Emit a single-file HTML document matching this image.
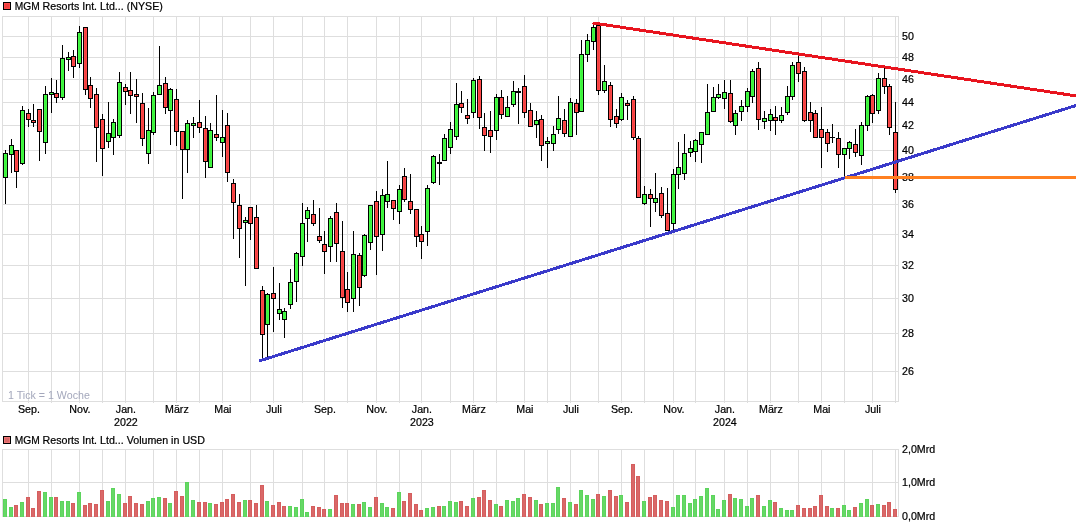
<!DOCTYPE html>
<html lang="de"><head><meta charset="utf-8"><title>MGM Resorts Int. Ltd... (NYSE)</title>
<style>html,body{margin:0;padding:0;background:#fff;}body{width:1076px;height:526px;overflow:hidden;}svg{display:block;}text{font-family:"Liberation Sans", sans-serif;font-size:10.67px;fill:#000;stroke:#000;stroke-width:0.22px;}</style>
</head><body>
<svg width="1076" height="526" viewBox="0 0 1076 526">
<rect x="0" y="0" width="1076" height="526" fill="#fff"/>
<g shape-rendering="crispEdges">
<rect x="28" y="16" width="1" height="387" fill="#dedede"/>
<rect x="28" y="449" width="1" height="68" fill="#dedede"/>
<rect x="51" y="16" width="1" height="387" fill="#dedede"/>
<rect x="51" y="449" width="1" height="68" fill="#dedede"/>
<rect x="79" y="16" width="1" height="387" fill="#dedede"/>
<rect x="79" y="449" width="1" height="68" fill="#dedede"/>
<rect x="102" y="16" width="1" height="387" fill="#dedede"/>
<rect x="102" y="449" width="1" height="68" fill="#dedede"/>
<rect x="125" y="16" width="1" height="387" fill="#dedede"/>
<rect x="125" y="449" width="1" height="68" fill="#dedede"/>
<rect x="153" y="16" width="1" height="387" fill="#dedede"/>
<rect x="153" y="449" width="1" height="68" fill="#dedede"/>
<rect x="176" y="16" width="1" height="387" fill="#dedede"/>
<rect x="176" y="449" width="1" height="68" fill="#dedede"/>
<rect x="199" y="16" width="1" height="387" fill="#dedede"/>
<rect x="199" y="449" width="1" height="68" fill="#dedede"/>
<rect x="222" y="16" width="1" height="387" fill="#dedede"/>
<rect x="222" y="449" width="1" height="68" fill="#dedede"/>
<rect x="250" y="16" width="1" height="387" fill="#dedede"/>
<rect x="250" y="449" width="1" height="68" fill="#dedede"/>
<rect x="273" y="16" width="1" height="387" fill="#dedede"/>
<rect x="273" y="449" width="1" height="68" fill="#dedede"/>
<rect x="302" y="16" width="1" height="387" fill="#dedede"/>
<rect x="302" y="449" width="1" height="68" fill="#dedede"/>
<rect x="324" y="16" width="1" height="387" fill="#dedede"/>
<rect x="324" y="449" width="1" height="68" fill="#dedede"/>
<rect x="347" y="16" width="1" height="387" fill="#dedede"/>
<rect x="347" y="449" width="1" height="68" fill="#dedede"/>
<rect x="376" y="16" width="1" height="387" fill="#dedede"/>
<rect x="376" y="449" width="1" height="68" fill="#dedede"/>
<rect x="399" y="16" width="1" height="387" fill="#dedede"/>
<rect x="399" y="449" width="1" height="68" fill="#dedede"/>
<rect x="421" y="16" width="1" height="387" fill="#dedede"/>
<rect x="421" y="449" width="1" height="68" fill="#dedede"/>
<rect x="450" y="16" width="1" height="387" fill="#dedede"/>
<rect x="450" y="449" width="1" height="68" fill="#dedede"/>
<rect x="473" y="16" width="1" height="387" fill="#dedede"/>
<rect x="473" y="449" width="1" height="68" fill="#dedede"/>
<rect x="496" y="16" width="1" height="387" fill="#dedede"/>
<rect x="496" y="449" width="1" height="68" fill="#dedede"/>
<rect x="524" y="16" width="1" height="387" fill="#dedede"/>
<rect x="524" y="449" width="1" height="68" fill="#dedede"/>
<rect x="547" y="16" width="1" height="387" fill="#dedede"/>
<rect x="547" y="449" width="1" height="68" fill="#dedede"/>
<rect x="570" y="16" width="1" height="387" fill="#dedede"/>
<rect x="570" y="449" width="1" height="68" fill="#dedede"/>
<rect x="598" y="16" width="1" height="387" fill="#dedede"/>
<rect x="598" y="449" width="1" height="68" fill="#dedede"/>
<rect x="621" y="16" width="1" height="387" fill="#dedede"/>
<rect x="621" y="449" width="1" height="68" fill="#dedede"/>
<rect x="644" y="16" width="1" height="387" fill="#dedede"/>
<rect x="644" y="449" width="1" height="68" fill="#dedede"/>
<rect x="673" y="16" width="1" height="387" fill="#dedede"/>
<rect x="673" y="449" width="1" height="68" fill="#dedede"/>
<rect x="695" y="16" width="1" height="387" fill="#dedede"/>
<rect x="695" y="449" width="1" height="68" fill="#dedede"/>
<rect x="724" y="16" width="1" height="387" fill="#dedede"/>
<rect x="724" y="449" width="1" height="68" fill="#dedede"/>
<rect x="747" y="16" width="1" height="387" fill="#dedede"/>
<rect x="747" y="449" width="1" height="68" fill="#dedede"/>
<rect x="770" y="16" width="1" height="387" fill="#dedede"/>
<rect x="770" y="449" width="1" height="68" fill="#dedede"/>
<rect x="798" y="16" width="1" height="387" fill="#dedede"/>
<rect x="798" y="449" width="1" height="68" fill="#dedede"/>
<rect x="821" y="16" width="1" height="387" fill="#dedede"/>
<rect x="821" y="449" width="1" height="68" fill="#dedede"/>
<rect x="844" y="16" width="1" height="387" fill="#dedede"/>
<rect x="844" y="449" width="1" height="68" fill="#dedede"/>
<rect x="872" y="16" width="1" height="387" fill="#dedede"/>
<rect x="872" y="449" width="1" height="68" fill="#dedede"/>
<rect x="895" y="16" width="1" height="387" fill="#dedede"/>
<rect x="895" y="449" width="1" height="68" fill="#dedede"/>
<rect x="2" y="36" width="897" height="1" fill="#dedede"/>
<rect x="2" y="57" width="897" height="1" fill="#dedede"/>
<rect x="2" y="79" width="897" height="1" fill="#dedede"/>
<rect x="2" y="102" width="897" height="1" fill="#dedede"/>
<rect x="2" y="125" width="897" height="1" fill="#dedede"/>
<rect x="2" y="150" width="897" height="1" fill="#dedede"/>
<rect x="2" y="177" width="897" height="1" fill="#dedede"/>
<rect x="2" y="204" width="897" height="1" fill="#dedede"/>
<rect x="2" y="234" width="897" height="1" fill="#dedede"/>
<rect x="2" y="265" width="897" height="1" fill="#dedede"/>
<rect x="2" y="298" width="897" height="1" fill="#dedede"/>
<rect x="2" y="333" width="897" height="1" fill="#dedede"/>
<rect x="2" y="371" width="897" height="1" fill="#dedede"/>
<rect x="2" y="482" width="897" height="1" fill="#dedede"/>
<rect x="2" y="16" width="897" height="1" fill="#dedede"/>
<rect x="2" y="401" width="897" height="1" fill="#dedede"/>
<rect x="2" y="16" width="1" height="386" fill="#dedede"/>
<rect x="898" y="16" width="1" height="386" fill="#dedede"/>
<rect x="2" y="449" width="897" height="1" fill="#dedede"/>
<rect x="2" y="516" width="897" height="1" fill="#dedede"/>
<rect x="2" y="449" width="1" height="68" fill="#dedede"/>
<rect x="898" y="449" width="1" height="68" fill="#dedede"/>
<rect x="3" y="499" width="4" height="18" fill="#5cd45c"/>
<rect x="4" y="500" width="2" height="17" fill="#66d866"/>
<rect x="9" y="507" width="4" height="10" fill="#5cd45c"/>
<rect x="10" y="508" width="2" height="9" fill="#66d866"/>
<rect x="14" y="505" width="4" height="12" fill="#d55e5e"/>
<rect x="15" y="506" width="2" height="11" fill="#d96868"/>
<rect x="20" y="502" width="4" height="15" fill="#5cd45c"/>
<rect x="21" y="503" width="2" height="14" fill="#66d866"/>
<rect x="26" y="497" width="4" height="20" fill="#d55e5e"/>
<rect x="27" y="498" width="2" height="19" fill="#d96868"/>
<rect x="31" y="508" width="4" height="9" fill="#d55e5e"/>
<rect x="32" y="509" width="2" height="8" fill="#d96868"/>
<rect x="37" y="491" width="4" height="26" fill="#d55e5e"/>
<rect x="38" y="492" width="2" height="25" fill="#d96868"/>
<rect x="43" y="492" width="4" height="25" fill="#5cd45c"/>
<rect x="44" y="493" width="2" height="24" fill="#66d866"/>
<rect x="49" y="497" width="4" height="20" fill="#5cd45c"/>
<rect x="50" y="498" width="2" height="19" fill="#66d866"/>
<rect x="54" y="497" width="4" height="20" fill="#d55e5e"/>
<rect x="55" y="498" width="2" height="19" fill="#d96868"/>
<rect x="60" y="501" width="4" height="16" fill="#5cd45c"/>
<rect x="61" y="502" width="2" height="15" fill="#66d866"/>
<rect x="66" y="501" width="4" height="16" fill="#5cd45c"/>
<rect x="67" y="502" width="2" height="15" fill="#66d866"/>
<rect x="71" y="503" width="4" height="14" fill="#d55e5e"/>
<rect x="72" y="504" width="2" height="13" fill="#d96868"/>
<rect x="77" y="492" width="4" height="25" fill="#5cd45c"/>
<rect x="78" y="493" width="2" height="24" fill="#66d866"/>
<rect x="83" y="505" width="4" height="12" fill="#d55e5e"/>
<rect x="84" y="506" width="2" height="11" fill="#d96868"/>
<rect x="88" y="503" width="4" height="14" fill="#d55e5e"/>
<rect x="89" y="504" width="2" height="13" fill="#d96868"/>
<rect x="94" y="504" width="4" height="13" fill="#d55e5e"/>
<rect x="95" y="505" width="2" height="12" fill="#d96868"/>
<rect x="100" y="490" width="4" height="27" fill="#d55e5e"/>
<rect x="101" y="491" width="2" height="26" fill="#d96868"/>
<rect x="106" y="501" width="4" height="16" fill="#5cd45c"/>
<rect x="107" y="502" width="2" height="15" fill="#66d866"/>
<rect x="111" y="488" width="4" height="29" fill="#5cd45c"/>
<rect x="112" y="489" width="2" height="28" fill="#66d866"/>
<rect x="117" y="494" width="4" height="23" fill="#5cd45c"/>
<rect x="118" y="495" width="2" height="22" fill="#66d866"/>
<rect x="123" y="503" width="4" height="14" fill="#d55e5e"/>
<rect x="124" y="504" width="2" height="13" fill="#d96868"/>
<rect x="128" y="496" width="4" height="21" fill="#d55e5e"/>
<rect x="129" y="497" width="2" height="20" fill="#d96868"/>
<rect x="134" y="503" width="4" height="14" fill="#d55e5e"/>
<rect x="135" y="504" width="2" height="13" fill="#d96868"/>
<rect x="140" y="504" width="4" height="13" fill="#d55e5e"/>
<rect x="141" y="505" width="2" height="12" fill="#d96868"/>
<rect x="146" y="501" width="4" height="16" fill="#5cd45c"/>
<rect x="147" y="502" width="2" height="15" fill="#66d866"/>
<rect x="151" y="498" width="4" height="19" fill="#5cd45c"/>
<rect x="152" y="499" width="2" height="18" fill="#66d866"/>
<rect x="157" y="497" width="4" height="20" fill="#5cd45c"/>
<rect x="158" y="498" width="2" height="19" fill="#66d866"/>
<rect x="163" y="498" width="4" height="19" fill="#d55e5e"/>
<rect x="164" y="499" width="2" height="18" fill="#d96868"/>
<rect x="168" y="503" width="4" height="14" fill="#5cd45c"/>
<rect x="169" y="504" width="2" height="13" fill="#66d866"/>
<rect x="174" y="491" width="4" height="26" fill="#d55e5e"/>
<rect x="175" y="492" width="2" height="25" fill="#d96868"/>
<rect x="180" y="496" width="4" height="21" fill="#d55e5e"/>
<rect x="181" y="497" width="2" height="20" fill="#d96868"/>
<rect x="185" y="482" width="4" height="35" fill="#5cd45c"/>
<rect x="186" y="483" width="2" height="34" fill="#66d866"/>
<rect x="191" y="500" width="4" height="17" fill="#5cd45c"/>
<rect x="192" y="501" width="2" height="16" fill="#66d866"/>
<rect x="197" y="502" width="4" height="15" fill="#d55e5e"/>
<rect x="198" y="503" width="2" height="14" fill="#d96868"/>
<rect x="203" y="502" width="4" height="15" fill="#d55e5e"/>
<rect x="204" y="503" width="2" height="14" fill="#d96868"/>
<rect x="208" y="503" width="4" height="14" fill="#5cd45c"/>
<rect x="209" y="504" width="2" height="13" fill="#66d866"/>
<rect x="214" y="504" width="4" height="13" fill="#d55e5e"/>
<rect x="215" y="505" width="2" height="12" fill="#d96868"/>
<rect x="220" y="502" width="4" height="15" fill="#d55e5e"/>
<rect x="221" y="503" width="2" height="14" fill="#d96868"/>
<rect x="225" y="499" width="4" height="18" fill="#d55e5e"/>
<rect x="226" y="500" width="2" height="17" fill="#d96868"/>
<rect x="231" y="494" width="4" height="23" fill="#d55e5e"/>
<rect x="232" y="495" width="2" height="22" fill="#d96868"/>
<rect x="237" y="502" width="4" height="15" fill="#d55e5e"/>
<rect x="238" y="503" width="2" height="14" fill="#d96868"/>
<rect x="243" y="500" width="4" height="17" fill="#5cd45c"/>
<rect x="244" y="501" width="2" height="16" fill="#66d866"/>
<rect x="248" y="500" width="4" height="17" fill="#d55e5e"/>
<rect x="249" y="501" width="2" height="16" fill="#d96868"/>
<rect x="254" y="503" width="4" height="14" fill="#d55e5e"/>
<rect x="255" y="504" width="2" height="13" fill="#d96868"/>
<rect x="260" y="485" width="4" height="32" fill="#d55e5e"/>
<rect x="261" y="486" width="2" height="31" fill="#d96868"/>
<rect x="265" y="501" width="4" height="16" fill="#5cd45c"/>
<rect x="266" y="502" width="2" height="15" fill="#66d866"/>
<rect x="271" y="505" width="4" height="12" fill="#d55e5e"/>
<rect x="272" y="506" width="2" height="11" fill="#d96868"/>
<rect x="277" y="502" width="4" height="15" fill="#d55e5e"/>
<rect x="278" y="503" width="2" height="14" fill="#d96868"/>
<rect x="282" y="506" width="4" height="11" fill="#d55e5e"/>
<rect x="283" y="507" width="2" height="10" fill="#d96868"/>
<rect x="288" y="506" width="4" height="11" fill="#5cd45c"/>
<rect x="289" y="507" width="2" height="10" fill="#66d866"/>
<rect x="294" y="507" width="4" height="10" fill="#5cd45c"/>
<rect x="295" y="508" width="2" height="9" fill="#66d866"/>
<rect x="300" y="499" width="4" height="18" fill="#5cd45c"/>
<rect x="301" y="500" width="2" height="17" fill="#66d866"/>
<rect x="305" y="512" width="4" height="5" fill="#5cd45c"/>
<rect x="306" y="513" width="2" height="4" fill="#66d866"/>
<rect x="311" y="506" width="4" height="11" fill="#d55e5e"/>
<rect x="312" y="507" width="2" height="10" fill="#d96868"/>
<rect x="317" y="507" width="4" height="10" fill="#d55e5e"/>
<rect x="318" y="508" width="2" height="9" fill="#d96868"/>
<rect x="322" y="509" width="4" height="8" fill="#d55e5e"/>
<rect x="323" y="510" width="2" height="7" fill="#d96868"/>
<rect x="328" y="509" width="4" height="8" fill="#5cd45c"/>
<rect x="329" y="510" width="2" height="7" fill="#66d866"/>
<rect x="334" y="495" width="4" height="22" fill="#d55e5e"/>
<rect x="335" y="496" width="2" height="21" fill="#d96868"/>
<rect x="340" y="503" width="4" height="14" fill="#d55e5e"/>
<rect x="341" y="504" width="2" height="13" fill="#d96868"/>
<rect x="345" y="503" width="4" height="14" fill="#d55e5e"/>
<rect x="346" y="504" width="2" height="13" fill="#d96868"/>
<rect x="351" y="504" width="4" height="13" fill="#5cd45c"/>
<rect x="352" y="505" width="2" height="12" fill="#66d866"/>
<rect x="357" y="504" width="4" height="13" fill="#d55e5e"/>
<rect x="358" y="505" width="2" height="12" fill="#d96868"/>
<rect x="362" y="502" width="4" height="15" fill="#5cd45c"/>
<rect x="363" y="503" width="2" height="14" fill="#66d866"/>
<rect x="368" y="507" width="4" height="10" fill="#5cd45c"/>
<rect x="369" y="508" width="2" height="9" fill="#66d866"/>
<rect x="374" y="497" width="4" height="20" fill="#d55e5e"/>
<rect x="375" y="498" width="2" height="19" fill="#d96868"/>
<rect x="380" y="503" width="4" height="14" fill="#5cd45c"/>
<rect x="381" y="504" width="2" height="13" fill="#66d866"/>
<rect x="385" y="507" width="4" height="10" fill="#5cd45c"/>
<rect x="386" y="508" width="2" height="9" fill="#66d866"/>
<rect x="391" y="508" width="4" height="9" fill="#d55e5e"/>
<rect x="392" y="509" width="2" height="8" fill="#d96868"/>
<rect x="397" y="492" width="4" height="25" fill="#5cd45c"/>
<rect x="398" y="493" width="2" height="24" fill="#66d866"/>
<rect x="402" y="501" width="4" height="16" fill="#d55e5e"/>
<rect x="403" y="502" width="2" height="15" fill="#d96868"/>
<rect x="408" y="493" width="4" height="24" fill="#d55e5e"/>
<rect x="409" y="494" width="2" height="23" fill="#d96868"/>
<rect x="414" y="504" width="4" height="13" fill="#d55e5e"/>
<rect x="415" y="505" width="2" height="12" fill="#d96868"/>
<rect x="419" y="510" width="4" height="7" fill="#d55e5e"/>
<rect x="420" y="511" width="2" height="6" fill="#d96868"/>
<rect x="425" y="508" width="4" height="9" fill="#5cd45c"/>
<rect x="426" y="509" width="2" height="8" fill="#66d866"/>
<rect x="431" y="507" width="4" height="10" fill="#5cd45c"/>
<rect x="432" y="508" width="2" height="9" fill="#66d866"/>
<rect x="437" y="506" width="4" height="11" fill="#d55e5e"/>
<rect x="438" y="507" width="2" height="10" fill="#d96868"/>
<rect x="442" y="506" width="4" height="11" fill="#5cd45c"/>
<rect x="443" y="507" width="2" height="10" fill="#66d866"/>
<rect x="448" y="501" width="4" height="16" fill="#5cd45c"/>
<rect x="449" y="502" width="2" height="15" fill="#66d866"/>
<rect x="454" y="502" width="4" height="15" fill="#5cd45c"/>
<rect x="455" y="503" width="2" height="14" fill="#66d866"/>
<rect x="459" y="501" width="4" height="16" fill="#d55e5e"/>
<rect x="460" y="502" width="2" height="15" fill="#d96868"/>
<rect x="465" y="506" width="4" height="11" fill="#d55e5e"/>
<rect x="466" y="507" width="2" height="10" fill="#d96868"/>
<rect x="471" y="498" width="4" height="19" fill="#5cd45c"/>
<rect x="472" y="499" width="2" height="18" fill="#66d866"/>
<rect x="477" y="497" width="4" height="20" fill="#d55e5e"/>
<rect x="478" y="498" width="2" height="19" fill="#d96868"/>
<rect x="482" y="490" width="4" height="27" fill="#d55e5e"/>
<rect x="483" y="491" width="2" height="26" fill="#d96868"/>
<rect x="488" y="500" width="4" height="17" fill="#d55e5e"/>
<rect x="489" y="501" width="2" height="16" fill="#d96868"/>
<rect x="494" y="504" width="4" height="13" fill="#5cd45c"/>
<rect x="495" y="505" width="2" height="12" fill="#66d866"/>
<rect x="499" y="506" width="4" height="11" fill="#d55e5e"/>
<rect x="500" y="507" width="2" height="10" fill="#d96868"/>
<rect x="505" y="500" width="4" height="17" fill="#5cd45c"/>
<rect x="506" y="501" width="2" height="16" fill="#66d866"/>
<rect x="511" y="501" width="4" height="16" fill="#5cd45c"/>
<rect x="512" y="502" width="2" height="15" fill="#66d866"/>
<rect x="516" y="498" width="4" height="19" fill="#5cd45c"/>
<rect x="517" y="499" width="2" height="18" fill="#66d866"/>
<rect x="522" y="494" width="4" height="23" fill="#d55e5e"/>
<rect x="523" y="495" width="2" height="22" fill="#d96868"/>
<rect x="528" y="497" width="4" height="20" fill="#d55e5e"/>
<rect x="529" y="498" width="2" height="19" fill="#d96868"/>
<rect x="534" y="500" width="4" height="17" fill="#5cd45c"/>
<rect x="535" y="501" width="2" height="16" fill="#66d866"/>
<rect x="539" y="504" width="4" height="13" fill="#d55e5e"/>
<rect x="540" y="505" width="2" height="12" fill="#d96868"/>
<rect x="545" y="503" width="4" height="14" fill="#5cd45c"/>
<rect x="546" y="504" width="2" height="13" fill="#66d866"/>
<rect x="551" y="503" width="4" height="14" fill="#5cd45c"/>
<rect x="552" y="504" width="2" height="13" fill="#66d866"/>
<rect x="556" y="487" width="4" height="30" fill="#5cd45c"/>
<rect x="557" y="488" width="2" height="29" fill="#66d866"/>
<rect x="562" y="498" width="4" height="19" fill="#d55e5e"/>
<rect x="563" y="499" width="2" height="18" fill="#d96868"/>
<rect x="568" y="502" width="4" height="15" fill="#5cd45c"/>
<rect x="569" y="503" width="2" height="14" fill="#66d866"/>
<rect x="574" y="504" width="4" height="13" fill="#d55e5e"/>
<rect x="575" y="505" width="2" height="12" fill="#d96868"/>
<rect x="579" y="490" width="4" height="27" fill="#5cd45c"/>
<rect x="580" y="491" width="2" height="26" fill="#66d866"/>
<rect x="585" y="495" width="4" height="22" fill="#5cd45c"/>
<rect x="586" y="496" width="2" height="21" fill="#66d866"/>
<rect x="591" y="499" width="4" height="18" fill="#5cd45c"/>
<rect x="592" y="500" width="2" height="17" fill="#66d866"/>
<rect x="596" y="494" width="4" height="23" fill="#d55e5e"/>
<rect x="597" y="495" width="2" height="22" fill="#d96868"/>
<rect x="602" y="496" width="4" height="21" fill="#5cd45c"/>
<rect x="603" y="497" width="2" height="20" fill="#66d866"/>
<rect x="608" y="490" width="4" height="27" fill="#d55e5e"/>
<rect x="609" y="491" width="2" height="26" fill="#d96868"/>
<rect x="614" y="496" width="4" height="21" fill="#d55e5e"/>
<rect x="615" y="497" width="2" height="20" fill="#d96868"/>
<rect x="619" y="495" width="4" height="22" fill="#5cd45c"/>
<rect x="620" y="496" width="2" height="21" fill="#66d866"/>
<rect x="625" y="502" width="4" height="15" fill="#d55e5e"/>
<rect x="626" y="503" width="2" height="14" fill="#d96868"/>
<rect x="631" y="464" width="4" height="53" fill="#d55e5e"/>
<rect x="632" y="465" width="2" height="52" fill="#d96868"/>
<rect x="636" y="476" width="4" height="41" fill="#d55e5e"/>
<rect x="637" y="477" width="2" height="40" fill="#d96868"/>
<rect x="642" y="501" width="4" height="16" fill="#5cd45c"/>
<rect x="643" y="502" width="2" height="15" fill="#66d866"/>
<rect x="648" y="497" width="4" height="20" fill="#d55e5e"/>
<rect x="649" y="498" width="2" height="19" fill="#d96868"/>
<rect x="653" y="495" width="4" height="22" fill="#d55e5e"/>
<rect x="654" y="496" width="2" height="21" fill="#d96868"/>
<rect x="659" y="500" width="4" height="17" fill="#d55e5e"/>
<rect x="660" y="501" width="2" height="16" fill="#d96868"/>
<rect x="665" y="501" width="4" height="16" fill="#d55e5e"/>
<rect x="666" y="502" width="2" height="15" fill="#d96868"/>
<rect x="671" y="507" width="4" height="10" fill="#5cd45c"/>
<rect x="672" y="508" width="2" height="9" fill="#66d866"/>
<rect x="676" y="495" width="4" height="22" fill="#5cd45c"/>
<rect x="677" y="496" width="2" height="21" fill="#66d866"/>
<rect x="682" y="495" width="4" height="22" fill="#5cd45c"/>
<rect x="683" y="496" width="2" height="21" fill="#66d866"/>
<rect x="688" y="503" width="4" height="14" fill="#5cd45c"/>
<rect x="689" y="504" width="2" height="13" fill="#66d866"/>
<rect x="693" y="499" width="4" height="18" fill="#5cd45c"/>
<rect x="694" y="500" width="2" height="17" fill="#66d866"/>
<rect x="699" y="496" width="4" height="21" fill="#5cd45c"/>
<rect x="700" y="497" width="2" height="20" fill="#66d866"/>
<rect x="705" y="488" width="4" height="29" fill="#5cd45c"/>
<rect x="706" y="489" width="2" height="28" fill="#66d866"/>
<rect x="711" y="495" width="4" height="22" fill="#5cd45c"/>
<rect x="712" y="496" width="2" height="21" fill="#66d866"/>
<rect x="716" y="509" width="4" height="8" fill="#5cd45c"/>
<rect x="717" y="510" width="2" height="7" fill="#66d866"/>
<rect x="722" y="500" width="4" height="17" fill="#5cd45c"/>
<rect x="723" y="501" width="2" height="16" fill="#66d866"/>
<rect x="728" y="494" width="4" height="23" fill="#d55e5e"/>
<rect x="729" y="495" width="2" height="22" fill="#d96868"/>
<rect x="733" y="498" width="4" height="19" fill="#5cd45c"/>
<rect x="734" y="499" width="2" height="18" fill="#66d866"/>
<rect x="739" y="499" width="4" height="18" fill="#5cd45c"/>
<rect x="740" y="500" width="2" height="17" fill="#66d866"/>
<rect x="745" y="506" width="4" height="11" fill="#5cd45c"/>
<rect x="746" y="507" width="2" height="10" fill="#66d866"/>
<rect x="750" y="498" width="4" height="19" fill="#5cd45c"/>
<rect x="751" y="499" width="2" height="18" fill="#66d866"/>
<rect x="756" y="495" width="4" height="22" fill="#d55e5e"/>
<rect x="757" y="496" width="2" height="21" fill="#d96868"/>
<rect x="762" y="506" width="4" height="11" fill="#5cd45c"/>
<rect x="763" y="507" width="2" height="10" fill="#66d866"/>
<rect x="768" y="500" width="4" height="17" fill="#5cd45c"/>
<rect x="769" y="501" width="2" height="16" fill="#66d866"/>
<rect x="773" y="502" width="4" height="15" fill="#d55e5e"/>
<rect x="774" y="503" width="2" height="14" fill="#d96868"/>
<rect x="779" y="508" width="4" height="9" fill="#5cd45c"/>
<rect x="780" y="509" width="2" height="8" fill="#66d866"/>
<rect x="785" y="510" width="4" height="7" fill="#5cd45c"/>
<rect x="786" y="511" width="2" height="6" fill="#66d866"/>
<rect x="790" y="510" width="4" height="7" fill="#5cd45c"/>
<rect x="791" y="511" width="2" height="6" fill="#66d866"/>
<rect x="796" y="505" width="4" height="12" fill="#d55e5e"/>
<rect x="797" y="506" width="2" height="11" fill="#d96868"/>
<rect x="802" y="508" width="4" height="9" fill="#d55e5e"/>
<rect x="803" y="509" width="2" height="8" fill="#d96868"/>
<rect x="808" y="508" width="4" height="9" fill="#d55e5e"/>
<rect x="809" y="509" width="2" height="8" fill="#d96868"/>
<rect x="813" y="506" width="4" height="11" fill="#d55e5e"/>
<rect x="814" y="507" width="2" height="10" fill="#d96868"/>
<rect x="819" y="495" width="4" height="22" fill="#d55e5e"/>
<rect x="820" y="496" width="2" height="21" fill="#d96868"/>
<rect x="825" y="506" width="4" height="11" fill="#d55e5e"/>
<rect x="826" y="507" width="2" height="10" fill="#d96868"/>
<rect x="830" y="508" width="4" height="9" fill="#5cd45c"/>
<rect x="831" y="509" width="2" height="8" fill="#66d866"/>
<rect x="836" y="508" width="4" height="9" fill="#d55e5e"/>
<rect x="837" y="509" width="2" height="8" fill="#d96868"/>
<rect x="842" y="505" width="4" height="12" fill="#5cd45c"/>
<rect x="843" y="506" width="2" height="11" fill="#66d866"/>
<rect x="847" y="510" width="4" height="7" fill="#5cd45c"/>
<rect x="848" y="511" width="2" height="6" fill="#66d866"/>
<rect x="853" y="507" width="4" height="10" fill="#d55e5e"/>
<rect x="854" y="508" width="2" height="9" fill="#d96868"/>
<rect x="859" y="503" width="4" height="14" fill="#5cd45c"/>
<rect x="860" y="504" width="2" height="13" fill="#66d866"/>
<rect x="865" y="499" width="4" height="18" fill="#5cd45c"/>
<rect x="866" y="500" width="2" height="17" fill="#66d866"/>
<rect x="870" y="505" width="4" height="12" fill="#d55e5e"/>
<rect x="871" y="506" width="2" height="11" fill="#d96868"/>
<rect x="876" y="504" width="4" height="13" fill="#5cd45c"/>
<rect x="877" y="505" width="2" height="12" fill="#66d866"/>
<rect x="882" y="505" width="4" height="12" fill="#d55e5e"/>
<rect x="883" y="506" width="2" height="11" fill="#d96868"/>
<rect x="887" y="502" width="4" height="15" fill="#d55e5e"/>
<rect x="888" y="503" width="2" height="14" fill="#d96868"/>
<rect x="893" y="509" width="4" height="8" fill="#d55e5e"/>
<rect x="894" y="510" width="2" height="7" fill="#d96868"/>
<rect x="5" y="150" width="1" height="54" fill="#000000"/>
<rect x="3" y="153" width="5" height="25" fill="#000000"/>
<rect x="4" y="154" width="3" height="23" fill="#44fb44"/>
<rect x="5" y="155" width="1" height="21" fill="#3cf03c"/>
<rect x="11" y="139" width="1" height="34" fill="#000000"/>
<rect x="9" y="145" width="5" height="10" fill="#000000"/>
<rect x="10" y="146" width="3" height="8" fill="#44fb44"/>
<rect x="11" y="147" width="1" height="6" fill="#3cf03c"/>
<rect x="16" y="150" width="1" height="38" fill="#000000"/>
<rect x="14" y="150" width="5" height="22" fill="#000000"/>
<rect x="15" y="151" width="3" height="20" fill="#ff4a4a"/>
<rect x="16" y="152" width="1" height="18" fill="#f04040"/>
<rect x="22" y="106" width="1" height="59" fill="#000000"/>
<rect x="20" y="110" width="5" height="54" fill="#000000"/>
<rect x="21" y="111" width="3" height="52" fill="#44fb44"/>
<rect x="22" y="112" width="1" height="50" fill="#3cf03c"/>
<rect x="28" y="109" width="1" height="18" fill="#000000"/>
<rect x="26" y="113" width="5" height="7" fill="#000000"/>
<rect x="27" y="114" width="3" height="5" fill="#ff4a4a"/>
<rect x="28" y="115" width="1" height="3" fill="#f04040"/>
<rect x="33" y="104" width="1" height="23" fill="#000000"/>
<rect x="31" y="120" width="5" height="3" fill="#000000"/>
<rect x="32" y="121" width="3" height="1" fill="#ff4a4a"/>
<rect x="39" y="109" width="1" height="52" fill="#000000"/>
<rect x="37" y="109" width="5" height="23" fill="#000000"/>
<rect x="38" y="110" width="3" height="21" fill="#ff4a4a"/>
<rect x="39" y="111" width="1" height="19" fill="#f04040"/>
<rect x="45" y="86" width="1" height="68" fill="#000000"/>
<rect x="43" y="94" width="5" height="49" fill="#000000"/>
<rect x="44" y="95" width="3" height="47" fill="#44fb44"/>
<rect x="45" y="96" width="1" height="45" fill="#3cf03c"/>
<rect x="51" y="78" width="1" height="35" fill="#000000"/>
<rect x="49" y="92" width="5" height="3" fill="#000000"/>
<rect x="50" y="93" width="3" height="1" fill="#44fb44"/>
<rect x="56" y="80" width="1" height="23" fill="#000000"/>
<rect x="54" y="93" width="5" height="5" fill="#000000"/>
<rect x="55" y="94" width="3" height="3" fill="#ff4a4a"/>
<rect x="56" y="95" width="1" height="1" fill="#f04040"/>
<rect x="62" y="45" width="1" height="55" fill="#000000"/>
<rect x="60" y="58" width="5" height="40" fill="#000000"/>
<rect x="61" y="59" width="3" height="38" fill="#44fb44"/>
<rect x="62" y="60" width="1" height="36" fill="#3cf03c"/>
<rect x="68" y="52" width="1" height="19" fill="#000000"/>
<rect x="66" y="57" width="5" height="3" fill="#000000"/>
<rect x="67" y="58" width="3" height="1" fill="#44fb44"/>
<rect x="73" y="50" width="1" height="28" fill="#000000"/>
<rect x="71" y="56" width="5" height="11" fill="#000000"/>
<rect x="72" y="57" width="3" height="9" fill="#ff4a4a"/>
<rect x="73" y="58" width="1" height="7" fill="#f04040"/>
<rect x="79" y="26" width="1" height="42" fill="#000000"/>
<rect x="77" y="32" width="5" height="32" fill="#000000"/>
<rect x="78" y="33" width="3" height="30" fill="#44fb44"/>
<rect x="79" y="34" width="1" height="28" fill="#3cf03c"/>
<rect x="85" y="27" width="1" height="68" fill="#000000"/>
<rect x="83" y="27" width="5" height="63" fill="#000000"/>
<rect x="84" y="28" width="3" height="61" fill="#ff4a4a"/>
<rect x="85" y="29" width="1" height="59" fill="#f04040"/>
<rect x="90" y="77" width="1" height="31" fill="#000000"/>
<rect x="88" y="85" width="5" height="14" fill="#000000"/>
<rect x="89" y="86" width="3" height="12" fill="#ff4a4a"/>
<rect x="90" y="87" width="1" height="10" fill="#f04040"/>
<rect x="96" y="88" width="1" height="74" fill="#000000"/>
<rect x="94" y="94" width="5" height="34" fill="#000000"/>
<rect x="95" y="95" width="3" height="32" fill="#ff4a4a"/>
<rect x="96" y="96" width="1" height="30" fill="#f04040"/>
<rect x="102" y="114" width="1" height="62" fill="#000000"/>
<rect x="100" y="119" width="5" height="30" fill="#000000"/>
<rect x="101" y="120" width="3" height="28" fill="#ff4a4a"/>
<rect x="102" y="121" width="1" height="26" fill="#f04040"/>
<rect x="108" y="102" width="1" height="46" fill="#000000"/>
<rect x="106" y="133" width="5" height="9" fill="#000000"/>
<rect x="107" y="134" width="3" height="7" fill="#44fb44"/>
<rect x="108" y="135" width="1" height="5" fill="#3cf03c"/>
<rect x="113" y="119" width="1" height="36" fill="#000000"/>
<rect x="111" y="122" width="5" height="16" fill="#000000"/>
<rect x="112" y="123" width="3" height="14" fill="#44fb44"/>
<rect x="113" y="124" width="1" height="12" fill="#3cf03c"/>
<rect x="119" y="72" width="1" height="66" fill="#000000"/>
<rect x="117" y="82" width="5" height="54" fill="#000000"/>
<rect x="118" y="83" width="3" height="52" fill="#44fb44"/>
<rect x="119" y="84" width="1" height="50" fill="#3cf03c"/>
<rect x="125" y="84" width="1" height="21" fill="#000000"/>
<rect x="123" y="87" width="5" height="5" fill="#000000"/>
<rect x="124" y="88" width="3" height="3" fill="#ff4a4a"/>
<rect x="125" y="89" width="1" height="1" fill="#f04040"/>
<rect x="130" y="72" width="1" height="42" fill="#000000"/>
<rect x="128" y="90" width="5" height="6" fill="#000000"/>
<rect x="129" y="91" width="3" height="4" fill="#ff4a4a"/>
<rect x="130" y="92" width="1" height="2" fill="#f04040"/>
<rect x="136" y="79" width="1" height="44" fill="#000000"/>
<rect x="134" y="94" width="5" height="3" fill="#000000"/>
<rect x="135" y="95" width="3" height="1" fill="#ff4a4a"/>
<rect x="142" y="93" width="1" height="53" fill="#000000"/>
<rect x="140" y="103" width="5" height="36" fill="#000000"/>
<rect x="141" y="104" width="3" height="34" fill="#ff4a4a"/>
<rect x="142" y="105" width="1" height="32" fill="#f04040"/>
<rect x="148" y="108" width="1" height="56" fill="#000000"/>
<rect x="146" y="130" width="5" height="24" fill="#000000"/>
<rect x="147" y="131" width="3" height="22" fill="#44fb44"/>
<rect x="148" y="132" width="1" height="20" fill="#3cf03c"/>
<rect x="153" y="92" width="1" height="43" fill="#000000"/>
<rect x="151" y="95" width="5" height="38" fill="#000000"/>
<rect x="152" y="96" width="3" height="36" fill="#44fb44"/>
<rect x="153" y="97" width="1" height="34" fill="#3cf03c"/>
<rect x="159" y="46" width="1" height="49" fill="#000000"/>
<rect x="157" y="85" width="5" height="10" fill="#000000"/>
<rect x="158" y="86" width="3" height="8" fill="#44fb44"/>
<rect x="159" y="87" width="1" height="6" fill="#3cf03c"/>
<rect x="165" y="77" width="1" height="37" fill="#000000"/>
<rect x="163" y="83" width="5" height="25" fill="#000000"/>
<rect x="164" y="84" width="3" height="23" fill="#ff4a4a"/>
<rect x="165" y="85" width="1" height="21" fill="#f04040"/>
<rect x="170" y="88" width="1" height="57" fill="#000000"/>
<rect x="168" y="89" width="5" height="22" fill="#000000"/>
<rect x="169" y="90" width="3" height="20" fill="#44fb44"/>
<rect x="170" y="91" width="1" height="18" fill="#3cf03c"/>
<rect x="176" y="89" width="1" height="57" fill="#000000"/>
<rect x="174" y="99" width="5" height="33" fill="#000000"/>
<rect x="175" y="100" width="3" height="31" fill="#ff4a4a"/>
<rect x="176" y="101" width="1" height="29" fill="#f04040"/>
<rect x="182" y="131" width="1" height="68" fill="#000000"/>
<rect x="180" y="131" width="5" height="19" fill="#000000"/>
<rect x="181" y="132" width="3" height="17" fill="#ff4a4a"/>
<rect x="182" y="133" width="1" height="15" fill="#f04040"/>
<rect x="187" y="120" width="1" height="53" fill="#000000"/>
<rect x="185" y="123" width="5" height="27" fill="#000000"/>
<rect x="186" y="124" width="3" height="25" fill="#44fb44"/>
<rect x="187" y="125" width="1" height="23" fill="#3cf03c"/>
<rect x="193" y="117" width="1" height="21" fill="#000000"/>
<rect x="191" y="123" width="5" height="3" fill="#000000"/>
<rect x="192" y="124" width="3" height="1" fill="#44fb44"/>
<rect x="199" y="100" width="1" height="33" fill="#000000"/>
<rect x="197" y="122" width="5" height="6" fill="#000000"/>
<rect x="198" y="123" width="3" height="4" fill="#ff4a4a"/>
<rect x="199" y="124" width="1" height="2" fill="#f04040"/>
<rect x="205" y="116" width="1" height="62" fill="#000000"/>
<rect x="203" y="128" width="5" height="34" fill="#000000"/>
<rect x="204" y="129" width="3" height="32" fill="#ff4a4a"/>
<rect x="205" y="130" width="1" height="30" fill="#f04040"/>
<rect x="210" y="123" width="1" height="45" fill="#000000"/>
<rect x="208" y="130" width="5" height="38" fill="#000000"/>
<rect x="209" y="131" width="3" height="36" fill="#44fb44"/>
<rect x="210" y="132" width="1" height="34" fill="#3cf03c"/>
<rect x="216" y="95" width="1" height="46" fill="#000000"/>
<rect x="214" y="134" width="5" height="4" fill="#000000"/>
<rect x="215" y="135" width="3" height="2" fill="#ff4a4a"/>
<rect x="222" y="110" width="1" height="47" fill="#000000"/>
<rect x="220" y="137" width="5" height="6" fill="#000000"/>
<rect x="221" y="138" width="3" height="4" fill="#44fb44"/>
<rect x="222" y="139" width="1" height="2" fill="#3cf03c"/>
<rect x="227" y="113" width="1" height="69" fill="#000000"/>
<rect x="225" y="125" width="5" height="48" fill="#000000"/>
<rect x="226" y="126" width="3" height="46" fill="#ff4a4a"/>
<rect x="227" y="127" width="1" height="44" fill="#f04040"/>
<rect x="233" y="179" width="1" height="60" fill="#000000"/>
<rect x="231" y="183" width="5" height="20" fill="#000000"/>
<rect x="232" y="184" width="3" height="18" fill="#ff4a4a"/>
<rect x="233" y="185" width="1" height="16" fill="#f04040"/>
<rect x="239" y="194" width="1" height="64" fill="#000000"/>
<rect x="237" y="205" width="5" height="24" fill="#000000"/>
<rect x="238" y="206" width="3" height="22" fill="#ff4a4a"/>
<rect x="239" y="207" width="1" height="20" fill="#f04040"/>
<rect x="245" y="217" width="1" height="69" fill="#000000"/>
<rect x="243" y="220" width="5" height="3" fill="#000000"/>
<rect x="244" y="221" width="3" height="1" fill="#44fb44"/>
<rect x="250" y="207" width="1" height="33" fill="#000000"/>
<rect x="248" y="207" width="5" height="17" fill="#000000"/>
<rect x="249" y="208" width="3" height="15" fill="#ff4a4a"/>
<rect x="250" y="209" width="1" height="13" fill="#f04040"/>
<rect x="256" y="205" width="1" height="64" fill="#000000"/>
<rect x="254" y="217" width="5" height="52" fill="#000000"/>
<rect x="255" y="218" width="3" height="50" fill="#ff4a4a"/>
<rect x="256" y="219" width="1" height="48" fill="#f04040"/>
<rect x="262" y="286" width="1" height="73" fill="#000000"/>
<rect x="260" y="290" width="5" height="45" fill="#000000"/>
<rect x="261" y="291" width="3" height="43" fill="#ff4a4a"/>
<rect x="262" y="292" width="1" height="41" fill="#f04040"/>
<rect x="267" y="293" width="1" height="64" fill="#000000"/>
<rect x="265" y="294" width="5" height="31" fill="#000000"/>
<rect x="266" y="295" width="3" height="29" fill="#44fb44"/>
<rect x="267" y="296" width="1" height="27" fill="#3cf03c"/>
<rect x="273" y="267" width="1" height="65" fill="#000000"/>
<rect x="271" y="293" width="5" height="6" fill="#000000"/>
<rect x="272" y="294" width="3" height="4" fill="#ff4a4a"/>
<rect x="273" y="295" width="1" height="2" fill="#f04040"/>
<rect x="279" y="283" width="1" height="37" fill="#000000"/>
<rect x="277" y="309" width="5" height="5" fill="#000000"/>
<rect x="278" y="310" width="3" height="3" fill="#44fb44"/>
<rect x="279" y="311" width="1" height="1" fill="#3cf03c"/>
<rect x="284" y="308" width="1" height="30" fill="#000000"/>
<rect x="282" y="311" width="5" height="9" fill="#000000"/>
<rect x="283" y="312" width="3" height="7" fill="#44fb44"/>
<rect x="284" y="313" width="1" height="5" fill="#3cf03c"/>
<rect x="290" y="269" width="1" height="40" fill="#000000"/>
<rect x="288" y="282" width="5" height="23" fill="#000000"/>
<rect x="289" y="283" width="3" height="21" fill="#44fb44"/>
<rect x="290" y="284" width="1" height="19" fill="#3cf03c"/>
<rect x="296" y="252" width="1" height="50" fill="#000000"/>
<rect x="294" y="253" width="5" height="29" fill="#000000"/>
<rect x="295" y="254" width="3" height="27" fill="#44fb44"/>
<rect x="296" y="255" width="1" height="25" fill="#3cf03c"/>
<rect x="302" y="203" width="1" height="63" fill="#000000"/>
<rect x="300" y="223" width="5" height="34" fill="#000000"/>
<rect x="301" y="224" width="3" height="32" fill="#44fb44"/>
<rect x="302" y="225" width="1" height="30" fill="#3cf03c"/>
<rect x="307" y="207" width="1" height="35" fill="#000000"/>
<rect x="305" y="210" width="5" height="9" fill="#000000"/>
<rect x="306" y="211" width="3" height="7" fill="#44fb44"/>
<rect x="307" y="212" width="1" height="5" fill="#3cf03c"/>
<rect x="313" y="200" width="1" height="26" fill="#000000"/>
<rect x="311" y="214" width="5" height="10" fill="#000000"/>
<rect x="312" y="215" width="3" height="8" fill="#ff4a4a"/>
<rect x="313" y="216" width="1" height="6" fill="#f04040"/>
<rect x="319" y="208" width="1" height="35" fill="#000000"/>
<rect x="317" y="236" width="5" height="5" fill="#000000"/>
<rect x="318" y="237" width="3" height="3" fill="#ff4a4a"/>
<rect x="319" y="238" width="1" height="1" fill="#f04040"/>
<rect x="324" y="231" width="1" height="43" fill="#000000"/>
<rect x="322" y="244" width="5" height="8" fill="#000000"/>
<rect x="323" y="245" width="3" height="6" fill="#ff4a4a"/>
<rect x="324" y="246" width="1" height="4" fill="#f04040"/>
<rect x="330" y="216" width="1" height="46" fill="#000000"/>
<rect x="328" y="218" width="5" height="29" fill="#000000"/>
<rect x="329" y="219" width="3" height="27" fill="#44fb44"/>
<rect x="330" y="220" width="1" height="25" fill="#3cf03c"/>
<rect x="336" y="203" width="1" height="59" fill="#000000"/>
<rect x="334" y="212" width="5" height="32" fill="#000000"/>
<rect x="335" y="213" width="3" height="30" fill="#ff4a4a"/>
<rect x="336" y="214" width="1" height="28" fill="#f04040"/>
<rect x="342" y="221" width="1" height="87" fill="#000000"/>
<rect x="340" y="251" width="5" height="47" fill="#000000"/>
<rect x="341" y="252" width="3" height="45" fill="#ff4a4a"/>
<rect x="342" y="253" width="1" height="43" fill="#f04040"/>
<rect x="347" y="272" width="1" height="40" fill="#000000"/>
<rect x="345" y="289" width="5" height="14" fill="#000000"/>
<rect x="346" y="290" width="3" height="12" fill="#ff4a4a"/>
<rect x="347" y="291" width="1" height="10" fill="#f04040"/>
<rect x="353" y="231" width="1" height="81" fill="#000000"/>
<rect x="351" y="254" width="5" height="45" fill="#000000"/>
<rect x="352" y="255" width="3" height="43" fill="#44fb44"/>
<rect x="353" y="256" width="1" height="41" fill="#3cf03c"/>
<rect x="359" y="253" width="1" height="53" fill="#000000"/>
<rect x="357" y="255" width="5" height="33" fill="#000000"/>
<rect x="358" y="256" width="3" height="31" fill="#ff4a4a"/>
<rect x="359" y="257" width="1" height="29" fill="#f04040"/>
<rect x="364" y="234" width="1" height="43" fill="#000000"/>
<rect x="362" y="235" width="5" height="41" fill="#000000"/>
<rect x="363" y="236" width="3" height="39" fill="#44fb44"/>
<rect x="364" y="237" width="1" height="37" fill="#3cf03c"/>
<rect x="370" y="205" width="1" height="45" fill="#000000"/>
<rect x="368" y="205" width="5" height="38" fill="#000000"/>
<rect x="369" y="206" width="3" height="36" fill="#44fb44"/>
<rect x="370" y="207" width="1" height="34" fill="#3cf03c"/>
<rect x="376" y="191" width="1" height="84" fill="#000000"/>
<rect x="374" y="201" width="5" height="36" fill="#000000"/>
<rect x="375" y="202" width="3" height="34" fill="#ff4a4a"/>
<rect x="376" y="203" width="1" height="32" fill="#f04040"/>
<rect x="382" y="189" width="1" height="62" fill="#000000"/>
<rect x="380" y="195" width="5" height="40" fill="#000000"/>
<rect x="381" y="196" width="3" height="38" fill="#44fb44"/>
<rect x="382" y="197" width="1" height="36" fill="#3cf03c"/>
<rect x="387" y="161" width="1" height="47" fill="#000000"/>
<rect x="385" y="194" width="5" height="8" fill="#000000"/>
<rect x="386" y="195" width="3" height="6" fill="#44fb44"/>
<rect x="387" y="196" width="1" height="4" fill="#3cf03c"/>
<rect x="393" y="200" width="1" height="20" fill="#000000"/>
<rect x="391" y="200" width="5" height="9" fill="#000000"/>
<rect x="392" y="201" width="3" height="7" fill="#ff4a4a"/>
<rect x="393" y="202" width="1" height="5" fill="#f04040"/>
<rect x="399" y="185" width="1" height="39" fill="#000000"/>
<rect x="397" y="189" width="5" height="23" fill="#000000"/>
<rect x="398" y="190" width="3" height="21" fill="#44fb44"/>
<rect x="399" y="191" width="1" height="19" fill="#3cf03c"/>
<rect x="404" y="168" width="1" height="34" fill="#000000"/>
<rect x="402" y="176" width="5" height="24" fill="#000000"/>
<rect x="403" y="177" width="3" height="22" fill="#ff4a4a"/>
<rect x="404" y="178" width="1" height="20" fill="#f04040"/>
<rect x="410" y="174" width="1" height="40" fill="#000000"/>
<rect x="408" y="201" width="5" height="9" fill="#000000"/>
<rect x="409" y="202" width="3" height="7" fill="#ff4a4a"/>
<rect x="410" y="203" width="1" height="5" fill="#f04040"/>
<rect x="416" y="209" width="1" height="38" fill="#000000"/>
<rect x="414" y="209" width="5" height="28" fill="#000000"/>
<rect x="415" y="210" width="3" height="26" fill="#ff4a4a"/>
<rect x="416" y="211" width="1" height="24" fill="#f04040"/>
<rect x="421" y="226" width="1" height="33" fill="#000000"/>
<rect x="419" y="234" width="5" height="8" fill="#000000"/>
<rect x="420" y="235" width="3" height="6" fill="#ff4a4a"/>
<rect x="421" y="236" width="1" height="4" fill="#f04040"/>
<rect x="427" y="185" width="1" height="61" fill="#000000"/>
<rect x="425" y="188" width="5" height="44" fill="#000000"/>
<rect x="426" y="189" width="3" height="42" fill="#44fb44"/>
<rect x="427" y="190" width="1" height="40" fill="#3cf03c"/>
<rect x="433" y="155" width="1" height="29" fill="#000000"/>
<rect x="431" y="156" width="5" height="27" fill="#000000"/>
<rect x="432" y="157" width="3" height="25" fill="#44fb44"/>
<rect x="433" y="158" width="1" height="23" fill="#3cf03c"/>
<rect x="439" y="154" width="1" height="31" fill="#000000"/>
<rect x="437" y="162" width="5" height="2" fill="#000000"/>
<rect x="444" y="134" width="1" height="27" fill="#000000"/>
<rect x="442" y="138" width="5" height="23" fill="#000000"/>
<rect x="443" y="139" width="3" height="21" fill="#44fb44"/>
<rect x="444" y="140" width="1" height="19" fill="#3cf03c"/>
<rect x="450" y="122" width="1" height="32" fill="#000000"/>
<rect x="448" y="129" width="5" height="19" fill="#000000"/>
<rect x="449" y="130" width="3" height="17" fill="#44fb44"/>
<rect x="450" y="131" width="1" height="15" fill="#3cf03c"/>
<rect x="456" y="83" width="1" height="57" fill="#000000"/>
<rect x="454" y="104" width="5" height="33" fill="#000000"/>
<rect x="455" y="105" width="3" height="31" fill="#44fb44"/>
<rect x="456" y="106" width="1" height="29" fill="#3cf03c"/>
<rect x="461" y="91" width="1" height="22" fill="#000000"/>
<rect x="459" y="103" width="5" height="5" fill="#000000"/>
<rect x="460" y="104" width="3" height="3" fill="#ff4a4a"/>
<rect x="461" y="105" width="1" height="1" fill="#f04040"/>
<rect x="467" y="99" width="1" height="25" fill="#000000"/>
<rect x="465" y="115" width="5" height="4" fill="#000000"/>
<rect x="466" y="116" width="3" height="2" fill="#ff4a4a"/>
<rect x="473" y="78" width="1" height="40" fill="#000000"/>
<rect x="471" y="80" width="5" height="33" fill="#000000"/>
<rect x="472" y="81" width="3" height="31" fill="#44fb44"/>
<rect x="473" y="82" width="1" height="29" fill="#3cf03c"/>
<rect x="479" y="76" width="1" height="53" fill="#000000"/>
<rect x="477" y="79" width="5" height="39" fill="#000000"/>
<rect x="478" y="80" width="3" height="37" fill="#ff4a4a"/>
<rect x="479" y="81" width="1" height="35" fill="#f04040"/>
<rect x="484" y="113" width="1" height="38" fill="#000000"/>
<rect x="482" y="127" width="5" height="9" fill="#000000"/>
<rect x="483" y="128" width="3" height="7" fill="#ff4a4a"/>
<rect x="484" y="129" width="1" height="5" fill="#f04040"/>
<rect x="490" y="111" width="1" height="42" fill="#000000"/>
<rect x="488" y="130" width="5" height="7" fill="#000000"/>
<rect x="489" y="131" width="3" height="5" fill="#ff4a4a"/>
<rect x="490" y="132" width="1" height="3" fill="#f04040"/>
<rect x="496" y="94" width="1" height="46" fill="#000000"/>
<rect x="494" y="97" width="5" height="34" fill="#000000"/>
<rect x="495" y="98" width="3" height="32" fill="#44fb44"/>
<rect x="496" y="99" width="1" height="30" fill="#3cf03c"/>
<rect x="501" y="90" width="1" height="29" fill="#000000"/>
<rect x="499" y="97" width="5" height="18" fill="#000000"/>
<rect x="500" y="98" width="3" height="16" fill="#ff4a4a"/>
<rect x="501" y="99" width="1" height="14" fill="#f04040"/>
<rect x="507" y="96" width="1" height="21" fill="#000000"/>
<rect x="505" y="107" width="5" height="10" fill="#000000"/>
<rect x="506" y="108" width="3" height="8" fill="#44fb44"/>
<rect x="507" y="109" width="1" height="6" fill="#3cf03c"/>
<rect x="513" y="81" width="1" height="26" fill="#000000"/>
<rect x="511" y="91" width="5" height="14" fill="#000000"/>
<rect x="512" y="92" width="3" height="12" fill="#44fb44"/>
<rect x="513" y="93" width="1" height="10" fill="#3cf03c"/>
<rect x="518" y="88" width="1" height="36" fill="#000000"/>
<rect x="516" y="91" width="5" height="2" fill="#000000"/>
<rect x="524" y="75" width="1" height="43" fill="#000000"/>
<rect x="522" y="86" width="5" height="27" fill="#000000"/>
<rect x="523" y="87" width="3" height="25" fill="#ff4a4a"/>
<rect x="524" y="88" width="1" height="23" fill="#f04040"/>
<rect x="530" y="103" width="1" height="24" fill="#000000"/>
<rect x="528" y="110" width="5" height="17" fill="#000000"/>
<rect x="529" y="111" width="3" height="15" fill="#ff4a4a"/>
<rect x="530" y="112" width="1" height="13" fill="#f04040"/>
<rect x="536" y="111" width="1" height="27" fill="#000000"/>
<rect x="534" y="120" width="5" height="5" fill="#000000"/>
<rect x="535" y="121" width="3" height="3" fill="#44fb44"/>
<rect x="536" y="122" width="1" height="1" fill="#3cf03c"/>
<rect x="541" y="115" width="1" height="46" fill="#000000"/>
<rect x="539" y="119" width="5" height="27" fill="#000000"/>
<rect x="540" y="120" width="3" height="25" fill="#ff4a4a"/>
<rect x="541" y="121" width="1" height="23" fill="#f04040"/>
<rect x="547" y="137" width="1" height="31" fill="#000000"/>
<rect x="545" y="141" width="5" height="3" fill="#000000"/>
<rect x="546" y="142" width="3" height="1" fill="#44fb44"/>
<rect x="553" y="126" width="1" height="25" fill="#000000"/>
<rect x="551" y="134" width="5" height="10" fill="#000000"/>
<rect x="552" y="135" width="3" height="8" fill="#44fb44"/>
<rect x="553" y="136" width="1" height="6" fill="#3cf03c"/>
<rect x="558" y="96" width="1" height="38" fill="#000000"/>
<rect x="556" y="118" width="5" height="12" fill="#000000"/>
<rect x="557" y="119" width="3" height="10" fill="#44fb44"/>
<rect x="558" y="120" width="1" height="8" fill="#3cf03c"/>
<rect x="564" y="109" width="1" height="28" fill="#000000"/>
<rect x="562" y="120" width="5" height="14" fill="#000000"/>
<rect x="563" y="121" width="3" height="12" fill="#ff4a4a"/>
<rect x="564" y="122" width="1" height="10" fill="#f04040"/>
<rect x="570" y="98" width="1" height="39" fill="#000000"/>
<rect x="568" y="102" width="5" height="35" fill="#000000"/>
<rect x="569" y="103" width="3" height="33" fill="#44fb44"/>
<rect x="570" y="104" width="1" height="31" fill="#3cf03c"/>
<rect x="576" y="99" width="1" height="36" fill="#000000"/>
<rect x="574" y="103" width="5" height="10" fill="#000000"/>
<rect x="575" y="104" width="3" height="8" fill="#ff4a4a"/>
<rect x="576" y="105" width="1" height="6" fill="#f04040"/>
<rect x="581" y="40" width="1" height="72" fill="#000000"/>
<rect x="579" y="54" width="5" height="58" fill="#000000"/>
<rect x="580" y="55" width="3" height="56" fill="#44fb44"/>
<rect x="581" y="56" width="1" height="54" fill="#3cf03c"/>
<rect x="587" y="34" width="1" height="28" fill="#000000"/>
<rect x="585" y="40" width="5" height="15" fill="#000000"/>
<rect x="586" y="41" width="3" height="13" fill="#44fb44"/>
<rect x="587" y="42" width="1" height="11" fill="#3cf03c"/>
<rect x="593" y="22" width="1" height="28" fill="#000000"/>
<rect x="591" y="27" width="5" height="15" fill="#000000"/>
<rect x="592" y="28" width="3" height="13" fill="#44fb44"/>
<rect x="593" y="29" width="1" height="11" fill="#3cf03c"/>
<rect x="598" y="25" width="1" height="70" fill="#000000"/>
<rect x="596" y="25" width="5" height="66" fill="#000000"/>
<rect x="597" y="26" width="3" height="64" fill="#ff4a4a"/>
<rect x="598" y="27" width="1" height="62" fill="#f04040"/>
<rect x="604" y="65" width="1" height="28" fill="#000000"/>
<rect x="602" y="81" width="5" height="10" fill="#000000"/>
<rect x="603" y="82" width="3" height="8" fill="#44fb44"/>
<rect x="604" y="83" width="1" height="6" fill="#3cf03c"/>
<rect x="610" y="82" width="1" height="45" fill="#000000"/>
<rect x="608" y="85" width="5" height="35" fill="#000000"/>
<rect x="609" y="86" width="3" height="33" fill="#ff4a4a"/>
<rect x="610" y="87" width="1" height="31" fill="#f04040"/>
<rect x="616" y="109" width="1" height="19" fill="#000000"/>
<rect x="614" y="116" width="5" height="8" fill="#000000"/>
<rect x="615" y="117" width="3" height="6" fill="#ff4a4a"/>
<rect x="616" y="118" width="1" height="4" fill="#f04040"/>
<rect x="621" y="93" width="1" height="28" fill="#000000"/>
<rect x="619" y="97" width="5" height="23" fill="#000000"/>
<rect x="620" y="98" width="3" height="21" fill="#44fb44"/>
<rect x="621" y="99" width="1" height="19" fill="#3cf03c"/>
<rect x="627" y="100" width="1" height="20" fill="#000000"/>
<rect x="625" y="103" width="5" height="3" fill="#000000"/>
<rect x="626" y="104" width="3" height="1" fill="#ff4a4a"/>
<rect x="633" y="96" width="1" height="44" fill="#000000"/>
<rect x="631" y="99" width="5" height="39" fill="#000000"/>
<rect x="632" y="100" width="3" height="37" fill="#ff4a4a"/>
<rect x="633" y="101" width="1" height="35" fill="#f04040"/>
<rect x="638" y="136" width="1" height="62" fill="#000000"/>
<rect x="636" y="138" width="5" height="60" fill="#000000"/>
<rect x="637" y="139" width="3" height="58" fill="#ff4a4a"/>
<rect x="638" y="140" width="1" height="56" fill="#f04040"/>
<rect x="644" y="186" width="1" height="19" fill="#000000"/>
<rect x="642" y="194" width="5" height="10" fill="#000000"/>
<rect x="643" y="195" width="3" height="8" fill="#44fb44"/>
<rect x="644" y="196" width="1" height="6" fill="#3cf03c"/>
<rect x="650" y="189" width="1" height="38" fill="#000000"/>
<rect x="648" y="194" width="5" height="5" fill="#000000"/>
<rect x="649" y="195" width="3" height="3" fill="#ff4a4a"/>
<rect x="650" y="196" width="1" height="1" fill="#f04040"/>
<rect x="655" y="173" width="1" height="39" fill="#000000"/>
<rect x="653" y="198" width="5" height="5" fill="#000000"/>
<rect x="654" y="199" width="3" height="3" fill="#44fb44"/>
<rect x="655" y="200" width="1" height="1" fill="#3cf03c"/>
<rect x="661" y="187" width="1" height="31" fill="#000000"/>
<rect x="659" y="193" width="5" height="23" fill="#000000"/>
<rect x="660" y="194" width="3" height="21" fill="#ff4a4a"/>
<rect x="661" y="195" width="1" height="19" fill="#f04040"/>
<rect x="667" y="188" width="1" height="43" fill="#000000"/>
<rect x="665" y="213" width="5" height="18" fill="#000000"/>
<rect x="666" y="214" width="3" height="16" fill="#ff4a4a"/>
<rect x="667" y="215" width="1" height="14" fill="#f04040"/>
<rect x="673" y="169" width="1" height="61" fill="#000000"/>
<rect x="671" y="174" width="5" height="50" fill="#000000"/>
<rect x="672" y="175" width="3" height="48" fill="#44fb44"/>
<rect x="673" y="176" width="1" height="46" fill="#3cf03c"/>
<rect x="678" y="142" width="1" height="47" fill="#000000"/>
<rect x="676" y="167" width="5" height="8" fill="#000000"/>
<rect x="677" y="168" width="3" height="6" fill="#44fb44"/>
<rect x="678" y="169" width="1" height="4" fill="#3cf03c"/>
<rect x="684" y="134" width="1" height="46" fill="#000000"/>
<rect x="682" y="153" width="5" height="21" fill="#000000"/>
<rect x="683" y="154" width="3" height="19" fill="#44fb44"/>
<rect x="684" y="155" width="1" height="17" fill="#3cf03c"/>
<rect x="690" y="141" width="1" height="16" fill="#000000"/>
<rect x="688" y="148" width="5" height="5" fill="#000000"/>
<rect x="689" y="149" width="3" height="3" fill="#44fb44"/>
<rect x="690" y="150" width="1" height="1" fill="#3cf03c"/>
<rect x="695" y="139" width="1" height="23" fill="#000000"/>
<rect x="693" y="140" width="5" height="12" fill="#000000"/>
<rect x="694" y="141" width="3" height="10" fill="#44fb44"/>
<rect x="695" y="142" width="1" height="8" fill="#3cf03c"/>
<rect x="701" y="132" width="1" height="31" fill="#000000"/>
<rect x="699" y="132" width="5" height="13" fill="#000000"/>
<rect x="700" y="133" width="3" height="11" fill="#44fb44"/>
<rect x="701" y="134" width="1" height="9" fill="#3cf03c"/>
<rect x="707" y="84" width="1" height="51" fill="#000000"/>
<rect x="705" y="112" width="5" height="23" fill="#000000"/>
<rect x="706" y="113" width="3" height="21" fill="#44fb44"/>
<rect x="707" y="114" width="1" height="19" fill="#3cf03c"/>
<rect x="713" y="87" width="1" height="25" fill="#000000"/>
<rect x="711" y="97" width="5" height="15" fill="#000000"/>
<rect x="712" y="98" width="3" height="13" fill="#44fb44"/>
<rect x="713" y="99" width="1" height="11" fill="#3cf03c"/>
<rect x="718" y="84" width="1" height="15" fill="#000000"/>
<rect x="716" y="94" width="5" height="4" fill="#000000"/>
<rect x="717" y="95" width="3" height="2" fill="#44fb44"/>
<rect x="724" y="80" width="1" height="29" fill="#000000"/>
<rect x="722" y="92" width="5" height="7" fill="#000000"/>
<rect x="723" y="93" width="3" height="5" fill="#44fb44"/>
<rect x="724" y="94" width="1" height="3" fill="#3cf03c"/>
<rect x="730" y="80" width="1" height="43" fill="#000000"/>
<rect x="728" y="93" width="5" height="29" fill="#000000"/>
<rect x="729" y="94" width="3" height="27" fill="#ff4a4a"/>
<rect x="730" y="95" width="1" height="25" fill="#f04040"/>
<rect x="735" y="110" width="1" height="25" fill="#000000"/>
<rect x="733" y="113" width="5" height="13" fill="#000000"/>
<rect x="734" y="114" width="3" height="11" fill="#44fb44"/>
<rect x="735" y="115" width="1" height="9" fill="#3cf03c"/>
<rect x="741" y="100" width="1" height="21" fill="#000000"/>
<rect x="739" y="106" width="5" height="6" fill="#000000"/>
<rect x="740" y="107" width="3" height="4" fill="#44fb44"/>
<rect x="741" y="108" width="1" height="2" fill="#3cf03c"/>
<rect x="747" y="88" width="1" height="24" fill="#000000"/>
<rect x="745" y="91" width="5" height="16" fill="#000000"/>
<rect x="746" y="92" width="3" height="14" fill="#44fb44"/>
<rect x="747" y="93" width="1" height="12" fill="#3cf03c"/>
<rect x="752" y="69" width="1" height="34" fill="#000000"/>
<rect x="750" y="71" width="5" height="26" fill="#000000"/>
<rect x="751" y="72" width="3" height="24" fill="#44fb44"/>
<rect x="752" y="73" width="1" height="22" fill="#3cf03c"/>
<rect x="758" y="62" width="1" height="68" fill="#000000"/>
<rect x="756" y="68" width="5" height="52" fill="#000000"/>
<rect x="757" y="69" width="3" height="50" fill="#ff4a4a"/>
<rect x="758" y="70" width="1" height="48" fill="#f04040"/>
<rect x="764" y="111" width="1" height="18" fill="#000000"/>
<rect x="762" y="118" width="5" height="4" fill="#000000"/>
<rect x="763" y="119" width="3" height="2" fill="#44fb44"/>
<rect x="770" y="109" width="1" height="22" fill="#000000"/>
<rect x="768" y="114" width="5" height="7" fill="#000000"/>
<rect x="769" y="115" width="3" height="5" fill="#44fb44"/>
<rect x="770" y="116" width="1" height="3" fill="#3cf03c"/>
<rect x="775" y="106" width="1" height="29" fill="#000000"/>
<rect x="773" y="117" width="5" height="4" fill="#000000"/>
<rect x="774" y="118" width="3" height="2" fill="#ff4a4a"/>
<rect x="781" y="107" width="1" height="16" fill="#000000"/>
<rect x="779" y="115" width="5" height="6" fill="#000000"/>
<rect x="780" y="116" width="3" height="4" fill="#44fb44"/>
<rect x="781" y="117" width="1" height="2" fill="#3cf03c"/>
<rect x="787" y="86" width="1" height="29" fill="#000000"/>
<rect x="785" y="96" width="5" height="17" fill="#000000"/>
<rect x="786" y="97" width="3" height="15" fill="#44fb44"/>
<rect x="787" y="98" width="1" height="13" fill="#3cf03c"/>
<rect x="792" y="62" width="1" height="38" fill="#000000"/>
<rect x="790" y="65" width="5" height="32" fill="#000000"/>
<rect x="791" y="66" width="3" height="30" fill="#44fb44"/>
<rect x="792" y="67" width="1" height="28" fill="#3cf03c"/>
<rect x="798" y="55" width="1" height="27" fill="#000000"/>
<rect x="796" y="62" width="5" height="12" fill="#000000"/>
<rect x="797" y="63" width="3" height="10" fill="#ff4a4a"/>
<rect x="798" y="64" width="1" height="8" fill="#f04040"/>
<rect x="804" y="67" width="1" height="55" fill="#000000"/>
<rect x="802" y="71" width="5" height="50" fill="#000000"/>
<rect x="803" y="72" width="3" height="48" fill="#ff4a4a"/>
<rect x="804" y="73" width="1" height="46" fill="#f04040"/>
<rect x="810" y="102" width="1" height="30" fill="#000000"/>
<rect x="808" y="112" width="5" height="9" fill="#000000"/>
<rect x="809" y="113" width="3" height="7" fill="#ff4a4a"/>
<rect x="810" y="114" width="1" height="5" fill="#f04040"/>
<rect x="815" y="110" width="1" height="28" fill="#000000"/>
<rect x="813" y="113" width="5" height="25" fill="#000000"/>
<rect x="814" y="114" width="3" height="23" fill="#ff4a4a"/>
<rect x="815" y="115" width="1" height="21" fill="#f04040"/>
<rect x="821" y="107" width="1" height="61" fill="#000000"/>
<rect x="819" y="129" width="5" height="9" fill="#000000"/>
<rect x="820" y="130" width="3" height="7" fill="#ff4a4a"/>
<rect x="821" y="131" width="1" height="5" fill="#f04040"/>
<rect x="827" y="129" width="1" height="23" fill="#000000"/>
<rect x="825" y="132" width="5" height="12" fill="#000000"/>
<rect x="826" y="133" width="3" height="10" fill="#ff4a4a"/>
<rect x="827" y="134" width="1" height="8" fill="#f04040"/>
<rect x="832" y="124" width="1" height="19" fill="#000000"/>
<rect x="830" y="137" width="5" height="1" fill="#000000"/>
<rect x="838" y="132" width="1" height="36" fill="#000000"/>
<rect x="836" y="138" width="5" height="17" fill="#000000"/>
<rect x="837" y="139" width="3" height="15" fill="#ff4a4a"/>
<rect x="838" y="140" width="1" height="13" fill="#f04040"/>
<rect x="844" y="148" width="1" height="29" fill="#000000"/>
<rect x="842" y="148" width="5" height="7" fill="#000000"/>
<rect x="843" y="149" width="3" height="5" fill="#44fb44"/>
<rect x="844" y="150" width="1" height="3" fill="#3cf03c"/>
<rect x="849" y="141" width="1" height="18" fill="#000000"/>
<rect x="847" y="142" width="5" height="7" fill="#000000"/>
<rect x="848" y="143" width="3" height="5" fill="#44fb44"/>
<rect x="849" y="144" width="1" height="3" fill="#3cf03c"/>
<rect x="855" y="129" width="1" height="28" fill="#000000"/>
<rect x="853" y="144" width="5" height="9" fill="#000000"/>
<rect x="854" y="145" width="3" height="7" fill="#ff4a4a"/>
<rect x="855" y="146" width="1" height="5" fill="#f04040"/>
<rect x="861" y="122" width="1" height="43" fill="#000000"/>
<rect x="859" y="125" width="5" height="31" fill="#000000"/>
<rect x="860" y="126" width="3" height="29" fill="#44fb44"/>
<rect x="861" y="127" width="1" height="27" fill="#3cf03c"/>
<rect x="867" y="95" width="1" height="36" fill="#000000"/>
<rect x="865" y="96" width="5" height="30" fill="#000000"/>
<rect x="866" y="97" width="3" height="28" fill="#44fb44"/>
<rect x="867" y="98" width="1" height="26" fill="#3cf03c"/>
<rect x="872" y="94" width="1" height="29" fill="#000000"/>
<rect x="870" y="95" width="5" height="19" fill="#000000"/>
<rect x="871" y="96" width="3" height="17" fill="#ff4a4a"/>
<rect x="872" y="97" width="1" height="15" fill="#f04040"/>
<rect x="878" y="73" width="1" height="41" fill="#000000"/>
<rect x="876" y="78" width="5" height="33" fill="#000000"/>
<rect x="877" y="79" width="3" height="31" fill="#44fb44"/>
<rect x="878" y="80" width="1" height="29" fill="#3cf03c"/>
<rect x="884" y="68" width="1" height="26" fill="#000000"/>
<rect x="882" y="78" width="5" height="9" fill="#000000"/>
<rect x="883" y="79" width="3" height="7" fill="#ff4a4a"/>
<rect x="884" y="80" width="1" height="5" fill="#f04040"/>
<rect x="889" y="84" width="1" height="51" fill="#000000"/>
<rect x="887" y="86" width="5" height="42" fill="#000000"/>
<rect x="888" y="87" width="3" height="40" fill="#ff4a4a"/>
<rect x="889" y="88" width="1" height="38" fill="#f04040"/>
<rect x="895" y="102" width="1" height="91" fill="#000000"/>
<rect x="893" y="132" width="5" height="58" fill="#000000"/>
<rect x="894" y="133" width="3" height="56" fill="#ff4a4a"/>
<rect x="895" y="134" width="1" height="54" fill="#f04040"/>
</g>
<g shape-rendering="crispEdges"><rect x="3" y="2" width="8" height="8" fill="#000"/><rect x="4" y="3" width="6" height="6" fill="#ff4a4a"/><rect x="5" y="4" width="4" height="4" fill="#f04040"/><rect x="3" y="436" width="8" height="8" fill="#000"/><rect x="4" y="437" width="6" height="6" fill="#f07878"/><rect x="5" y="438" width="4" height="4" fill="#d86868"/></g>
<text y="10" style="white-space:pre"><tspan x="14.8" textLength="27.8" lengthAdjust="spacingAndGlyphs">MGM </tspan><tspan x="42.6">Resorts Int. Ltd... (NYSE)</tspan></text>
<text y="444" style="white-space:pre"><tspan x="14.8" textLength="27.8" lengthAdjust="spacingAndGlyphs">MGM </tspan><tspan x="42.6">Resorts Int. Ltd... Volumen in USD</tspan></text>
<text x="8" y="399" style="fill:#a4a8bc;stroke:none">1 Tick = 1 Woche</text>
<text x="902" y="39.8">50</text>
<text x="902" y="60.8">48</text>
<text x="902" y="82.8">46</text>
<text x="902" y="105.8">44</text>
<text x="902" y="128.8">42</text>
<text x="902" y="153.8">40</text>
<text x="902" y="180.8">38</text>
<text x="902" y="207.8">36</text>
<text x="902" y="237.8">34</text>
<text x="902" y="268.8">32</text>
<text x="902" y="301.8">30</text>
<text x="902" y="336.8">28</text>
<text x="902" y="374.8">26</text>
<text x="902" y="452.8">2,0Mrd</text>
<text x="902" y="485.8">1,0Mrd</text>
<text x="902" y="519.8">0,0Mrd</text>
<text x="28.9" y="413" text-anchor="middle">Sep.</text>
<text x="79.9" y="413" text-anchor="middle">Nov.</text>
<text x="125.9" y="413" text-anchor="middle">Jan.</text>
<text x="125.9" y="426" text-anchor="middle">2022</text>
<text x="176.9" y="413" text-anchor="middle">März</text>
<text x="222.9" y="413" text-anchor="middle">Mai</text>
<text x="273.9" y="413" text-anchor="middle">Juli</text>
<text x="324.9" y="413" text-anchor="middle">Sep.</text>
<text x="376.9" y="413" text-anchor="middle">Nov.</text>
<text x="421.9" y="413" text-anchor="middle">Jan.</text>
<text x="421.9" y="426" text-anchor="middle">2023</text>
<text x="473.9" y="413" text-anchor="middle">März</text>
<text x="524.9" y="413" text-anchor="middle">Mai</text>
<text x="570.9" y="413" text-anchor="middle">Juli</text>
<text x="621.9" y="413" text-anchor="middle">Sep.</text>
<text x="673.9" y="413" text-anchor="middle">Nov.</text>
<text x="724.9" y="413" text-anchor="middle">Jan.</text>
<text x="724.9" y="426" text-anchor="middle">2024</text>
<text x="770.9" y="413" text-anchor="middle">März</text>
<text x="821.9" y="413" text-anchor="middle">Mai</text>
<text x="872.9" y="413" text-anchor="middle">Juli</text>
<g shape-rendering="crispEdges" fill="none" stroke-width="3">
<line x1="259" y1="361" x2="1076" y2="105.5" stroke="#3a3aca"/>
<line x1="592.5" y1="22.9" x2="1076" y2="95.9" stroke="#e8141e"/>
<line x1="844.5" y1="177.5" x2="1076" y2="177.5" stroke="#ff8020"/>
</g>
</svg></body></html>
